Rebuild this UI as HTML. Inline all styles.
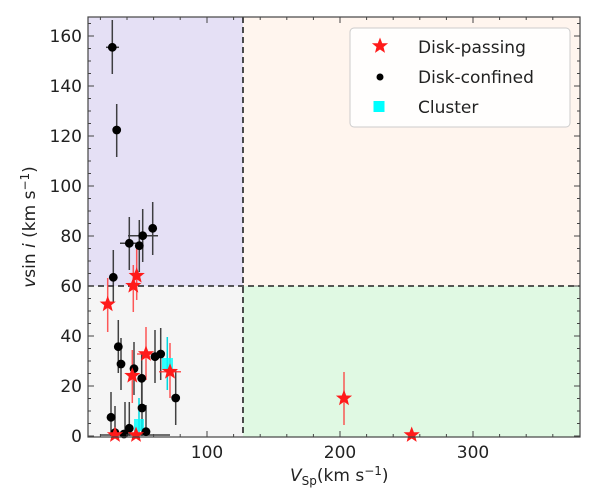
<!DOCTYPE html>
<html><head><style>body{margin:0;background:#fff}svg{display:block}text{font-family:"DejaVu Sans","Liberation Sans",sans-serif;fill:#222}</style></head><body>
<svg width="600" height="501" viewBox="0 0 600 501" xmlns="http://www.w3.org/2000/svg">
<defs>
<path id="star" d="M0,-8.5 L2.2,-2.8 L8.1,-2.7 L3.5,1 L5,6.9 L0,3.5 L-5,6.9 L-3.5,1 L-8.1,-2.7 L-2.2,-2.8Z" fill="#ff1a1a"/>
</defs>
<rect x="88" y="17" width="155" height="269" fill="#e5e0f5"/>
<rect x="243" y="17" width="337" height="269" fill="#fff5ee"/>
<rect x="88" y="286" width="155" height="151" fill="#f5f5f5"/>
<rect x="243" y="286" width="337" height="151" fill="#e0f9e3"/>
<line x1="243" y1="17" x2="243" y2="437" stroke="#222" stroke-width="1.6" stroke-dasharray="6,4"/>
<line x1="88" y1="286" x2="580" y2="286" stroke="#222" stroke-width="1.6" stroke-dasharray="6,4"/>
<g stroke="#222" stroke-width="1.5" opacity="0.85">
<line x1="112.3" y1="20" x2="112.3" y2="74"/><line x1="106" y1="47.3" x2="119" y2="47.3"/>
<line x1="116.7" y1="104" x2="116.7" y2="157"/>
<line x1="113.3" y1="250" x2="113.3" y2="303"/>
<line x1="129.3" y1="217" x2="129.3" y2="270"/><line x1="120" y1="243.3" x2="138" y2="243.3"/>
<line x1="139.3" y1="220" x2="139.3" y2="272"/>
<line x1="142.7" y1="209" x2="142.7" y2="262"/><line x1="128" y1="235.7" x2="158" y2="235.7"/>
<line x1="152.7" y1="202" x2="152.7" y2="255"/>
<line x1="118.3" y1="320" x2="118.3" y2="373"/>
<line x1="121" y1="338" x2="121" y2="390"/>
<line x1="134" y1="342" x2="134" y2="395"/>
<line x1="141.7" y1="352" x2="141.7" y2="405"/>
<line x1="155" y1="330" x2="155" y2="383"/>
<line x1="160.7" y1="328" x2="160.7" y2="380"/>
<line x1="175.7" y1="370" x2="175.7" y2="425"/>
<line x1="142" y1="382" x2="142" y2="436"/>
<line x1="111" y1="392" x2="111" y2="436"/>
<line x1="115" y1="406" x2="115" y2="436"/>
<line x1="129.3" y1="402" x2="129.3" y2="436"/>
<line x1="125" y1="402" x2="125" y2="436"/>
<line x1="146" y1="405" x2="146" y2="436"/>
<line x1="100" y1="435" x2="170" y2="435"/>
</g>
<g stroke="#ff3030" stroke-width="1.5" opacity="0.8">
<line x1="107.7" y1="278" x2="107.7" y2="332"/>
<line x1="133.3" y1="265" x2="133.3" y2="312"/>
<line x1="136.7" y1="248" x2="136.7" y2="300"/>
<line x1="132.3" y1="350" x2="132.3" y2="403"/>
<line x1="146" y1="327" x2="146" y2="380"/><line x1="137" y1="354" x2="157" y2="354"/>
<line x1="170" y1="343" x2="170" y2="398"/><line x1="159" y1="371.7" x2="181" y2="371.7"/>
<line x1="344" y1="372" x2="344" y2="425"/>
</g>
<g stroke="#00d8e0" stroke-width="1.5">
<line x1="167.3" y1="337" x2="167.3" y2="390"/>
<line x1="139" y1="398" x2="139" y2="436"/>
</g>
<g fill="#00ffff" opacity="0.8">
<rect x="162" y="358" width="11" height="12"/>
<rect x="134" y="419" width="10" height="12"/>
</g>
<g fill="#000">
<circle cx="112.3" cy="47.3" r="4.4"/><circle cx="116.7" cy="130" r="4.4"/>
<circle cx="113.3" cy="277.3" r="4.4"/><circle cx="129.3" cy="243.3" r="4.4"/><circle cx="139.3" cy="245.7" r="4.4"/>
<circle cx="142.7" cy="235.7" r="4.4"/><circle cx="152.7" cy="228.3" r="4.4"/>
<circle cx="118.3" cy="346.7" r="4.4"/><circle cx="121" cy="364" r="4.4"/><circle cx="134" cy="368.7" r="4.4"/>
<circle cx="141.7" cy="378.3" r="4.4"/><circle cx="155" cy="356.7" r="4.4"/><circle cx="160.7" cy="354" r="4.4"/>
<circle cx="175.7" cy="398" r="4.4"/><circle cx="142" cy="408" r="4.4"/><circle cx="111" cy="417.3" r="4.4"/>
<circle cx="115" cy="432.7" r="4.4"/><circle cx="129.3" cy="428.3" r="4.4"/><circle cx="146" cy="431.7" r="4.4"/>
<circle cx="124" cy="434" r="4.4"/>
</g>
<use href="#star" x="107.7" y="304.3"/><use href="#star" x="133.3" y="285.7"/><use href="#star" x="136.7" y="275.7"/>
<use href="#star" x="132.3" y="375.7"/><use href="#star" x="146" y="354"/><use href="#star" x="170" y="371.7"/>
<use href="#star" x="115" y="435"/><use href="#star" x="136" y="435"/>
<use href="#star" x="344" y="398.3"/><use href="#star" x="411.7" y="435"/>
<rect x="88" y="17" width="492" height="420" fill="none" stroke="#444" stroke-width="1.2"/>
<g stroke="#444" stroke-width="1">
<path d="M88,436h6M88,386h6M88,336h6M88,286h6M88,236h6M88,186h6M88,136h6M88,86h6M88,36h6
M580,436h-6M580,386h-6M580,336h-6M580,286h-6M580,236h-6M580,186h-6M580,136h-6M580,86h-6M580,36h-6"/>
<path d="M88,423.5h3M88,411h3M88,398.5h3M88,373.5h3M88,361h3M88,348.5h3M88,323.5h3M88,311h3M88,298.5h3M88,273.5h3M88,261h3M88,248.5h3M88,223.5h3M88,211h3M88,198.5h3M88,173.5h3M88,161h3M88,148.5h3M88,123.5h3M88,111h3M88,98.5h3M88,73.5h3M88,61h3M88,48.5h3M88,23.5h3
M580,423.5h-3M580,411h-3M580,398.5h-3M580,373.5h-3M580,361h-3M580,348.5h-3M580,323.5h-3M580,311h-3M580,298.5h-3M580,273.5h-3M580,261h-3M580,248.5h-3M580,223.5h-3M580,211h-3M580,198.5h-3M580,173.5h-3M580,161h-3M580,148.5h-3M580,123.5h-3M580,111h-3M580,98.5h-3M580,73.5h-3M580,61h-3M580,48.5h-3M580,23.5h-3"/>
<path d="M207,437v-6M340,437v-6M473,437v-6M207,17v6M340,17v6M473,17v6"/>
<path d="M100.4,437v-3M127,437v-3M153.6,437v-3M180.2,437v-3M233.6,437v-3M260.2,437v-3M286.8,437v-3M313.4,437v-3M366.6,437v-3M393.2,437v-3M419.8,437v-3M446.4,437v-3M499.6,437v-3M526.2,437v-3M552.8,437v-3
M100.4,17v3M127,17v3M153.6,17v3M180.2,17v3M233.6,17v3M260.2,17v3M286.8,17v3M313.4,17v3M366.6,17v3M393.2,17v3M419.8,17v3M446.4,17v3M499.6,17v3M526.2,17v3M552.8,17v3"/>
</g>
<g font-size="17" text-anchor="end">
<text x="82" y="442">0</text><text x="82" y="392">20</text><text x="82" y="342">40</text><text x="82" y="292">60</text>
<text x="82" y="242">80</text><text x="82" y="192">100</text><text x="82" y="142">120</text><text x="82" y="92">140</text><text x="82" y="42">160</text>
</g>
<g font-size="17" text-anchor="middle">
<text x="207" y="458">100</text><text x="340" y="458">200</text><text x="473" y="458">300</text>
</g>
<text x="290" y="481" font-size="17"><tspan font-style="italic">V</tspan><tspan font-size="12" dy="4">Sp</tspan><tspan dy="-4">(km s</tspan><tspan font-size="12" dy="-6">−1</tspan><tspan dy="6">)</tspan></text>
<text transform="translate(35,227) rotate(-90)" font-size="17" text-anchor="middle"><tspan font-style="italic">v</tspan>sin <tspan font-style="italic">i</tspan> (km s<tspan font-size="12" dy="-6">−1</tspan><tspan dy="6">)</tspan></text>
<rect x="350" y="28" width="220" height="99" rx="4" fill="#fff" fill-opacity="0.85" stroke="#ccc"/>
<use href="#star" x="380" y="46"/>
<circle cx="380" cy="77" r="3.5" fill="#000"/>
<rect x="373.5" y="101" width="11" height="11" fill="#00ffff"/>
<g font-size="17"><text x="418" y="53">Disk-passing</text><text x="418" y="83">Disk-confined</text><text x="418" y="113">Cluster</text></g>
</svg>
</body></html>
